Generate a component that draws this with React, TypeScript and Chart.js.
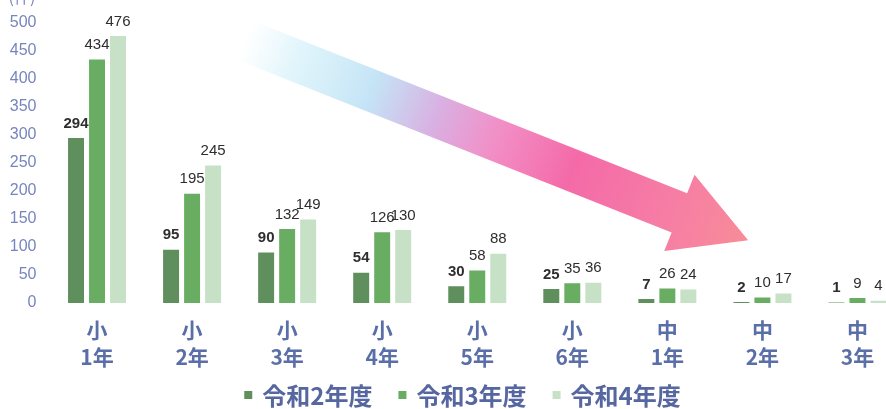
import React, { useEffect, useRef } from "react";
import { Chart, registerables } from "chart.js";

Chart.register(...registerables);

const categories: string[][] = [
  ["小", "1年"], ["小", "2年"], ["小", "3年"], ["小", "4年"], ["小", "5年"],
  ["小", "6年"], ["中", "1年"], ["中", "2年"], ["中", "3年"],
];
const seriesNames = ["令和2年度", "令和3年度", "令和4年度"];
const r2Values = [294, 95, 90, 54, 30, 25, 7, 2, 1];
const r3Values = [434, 195, 132, 126, 58, 35, 26, 10, 9];
const r4Values = [476, 245, 149, 130, 88, 36, 24, 17, 4];
const seriesColors = ["#5f8f5c", "#69ad63", "#c6e1c6"];
const yMin = 0;
const yMax = 500;
const yStep = 50;
const unitLabel = "(件)";

const CJK = '"Noto Sans CJK JP", "Noto Sans", sans-serif';
const LAT = '"Liberation Sans", Arial, sans-serif';

const arrowPlugin = {
  id: "trendArrow",
  beforeDatasetsDraw(chart: any) {
    const { ctx, scales } = chart;
    const x = scales.x;
    const y = scales.y;
    const sx = x.getPixelForValue(1.56);
    const sy = y.getPixelForValue(468);
    const tx = x.getPixelForValue(6.85);
    const ty = y.getPixelForValue(112);
    const dx = tx - sx;
    const dy = ty - sy;
    const len = Math.hypot(dx, dy);
    const ux = dx / len;
    const uy = dy / len;
    const nx = -uy;
    const ny = ux;
    const shaftHalf = 21;
    const headHalf = 41;
    const headLen = 74;
    const bx = tx - ux * headLen;
    const by = ty - uy * headLen;
    ctx.save();
    const g = ctx.createLinearGradient(sx, sy, tx, ty);
    g.addColorStop(0, "rgba(205,240,250,0)");
    g.addColorStop(0.1, "rgba(200,236,248,0.55)");
    g.addColorStop(0.25, "rgba(190,225,245,0.9)");
    g.addColorStop(0.38, "#d9b0e2");
    g.addColorStop(0.5, "#f28ec6");
    g.addColorStop(0.65, "#f46aa8");
    g.addColorStop(0.85, "#f67ea4");
    g.addColorStop(1, "#f78c98");
    ctx.fillStyle = g;
    ctx.beginPath();
    ctx.moveTo(sx + nx * shaftHalf, sy + ny * shaftHalf);
    ctx.lineTo(bx + nx * shaftHalf, by + ny * shaftHalf);
    ctx.lineTo(bx + nx * headHalf, by + ny * headHalf);
    ctx.lineTo(tx, ty);
    ctx.lineTo(bx - nx * headHalf, by - ny * headHalf);
    ctx.lineTo(bx - nx * shaftHalf, by - ny * shaftHalf);
    ctx.lineTo(sx - nx * shaftHalf, sy - ny * shaftHalf);
    ctx.closePath();
    ctx.fill();
    ctx.restore();
  },
};

const valueLabelPlugin = {
  id: "valueLabels",
  afterDatasetsDraw(chart: any) {
    const { ctx } = chart;
    ctx.save();
    ctx.fillStyle = "#2e2e2e";
    ctx.textAlign = "center";
    ctx.textBaseline = "bottom";
    chart.data.datasets.forEach((ds: any, di: number) => {
      const meta = chart.getDatasetMeta(di);
      ctx.font = (di === 0 ? "bold " : "") + "15px " + LAT;
      meta.data.forEach((bar: any, i: number) => {
        ctx.fillText(String(ds.data[i]), bar.x, bar.y - 7);
      });
    });
    ctx.fillStyle = "#7785bd";
    ctx.font = "16px " + CJK;
    ctx.textAlign = "center";
    ctx.textBaseline = "bottom";
    ctx.fillText(unitLabel, 22, 5);
    ctx.restore();
  },
};

const customLegendPlugin = {
  id: "customLegend",
  afterDraw(chart: any) {
    const { ctx } = chart;
    const boxSize = 8;
    const boxGap = 10;
    const itemGap = 26;
    ctx.save();
    ctx.font = "bold 24px " + CJK;
    const widths = chart.data.datasets.map((ds: any) => ctx.measureText(ds.label).width);
    const total = widths.reduce((a: number, w: number) => a + boxSize + boxGap + w, 0) + itemGap * (widths.length - 1);
    const cy = chart.height - 13;
    let xPos = chart.width / 2 + 10 - total / 2;
    chart.data.datasets.forEach((ds: any, i: number) => {
      ctx.fillStyle = ds.backgroundColor;
      ctx.fillRect(xPos, cy - boxSize / 2 - 1, boxSize, boxSize);
      xPos += boxSize + boxGap;
      ctx.fillStyle = "#5566a0";
      ctx.textAlign = "left";
      ctx.textBaseline = "middle";
      ctx.fillText(ds.label, xPos, cy);
      xPos += widths[i] + itemGap;
    });
    ctx.restore();
  },
};

export default function App() {
  const ref = useRef<HTMLCanvasElement | null>(null);
  useEffect(() => {
    document.body.style.margin = "0";
    const canvas = ref.current;
    if (!canvas) return;
    const chart = new Chart(canvas, {
      type: "bar",
      data: {
        labels: categories,
        datasets: [r2Values, r3Values, r4Values].map((vals, i) => ({
          label: seriesNames[i],
          data: vals,
          backgroundColor: seriesColors[i],
          borderWidth: 0,
          categoryPercentage: 0.663,
          barPercentage: 0.76,
        })),
      },
      options: {
        responsive: false,
        animation: false,
        layout: { padding: { left: 0, top: 20, right: 0, bottom: 36 } },
        plugins: {
          tooltip: { enabled: false },
          legend: { display: false },
        },
        scales: {
          x: {
            grid: { display: false, drawTicks: false },
            border: { display: false },
            ticks: {
              color: "#5a6ea8",
              padding: 13,
              font: { family: CJK, size: 21, weight: "bold", lineHeight: 1.29 },
              maxRotation: 0,
              autoSkip: false,
            },
            afterFit(scale: any) {
              scale.height = 70;
            },
          },
          y: {
            min: yMin,
            max: yMax,
            grid: { display: false, drawTicks: false },
            border: { display: false },
            ticks: {
              stepSize: yStep,
              color: "#7785bd",
              padding: 13,
              font: { family: LAT, size: 16 },
            },
            afterFit(scale: any) {
              scale.width = 49.5;
            },
          },
        },
      },
      plugins: [arrowPlugin, valueLabelPlugin, customLegendPlugin],
    });
    return () => chart.destroy();
  }, []);
  return (
    <div style={{ width: 886, height: 409, overflow: "hidden", position: "relative", background: "#fff" }}>
      <canvas ref={ref} width={905} height={409} style={{ display: "block" }} />
    </div>
  );
}
